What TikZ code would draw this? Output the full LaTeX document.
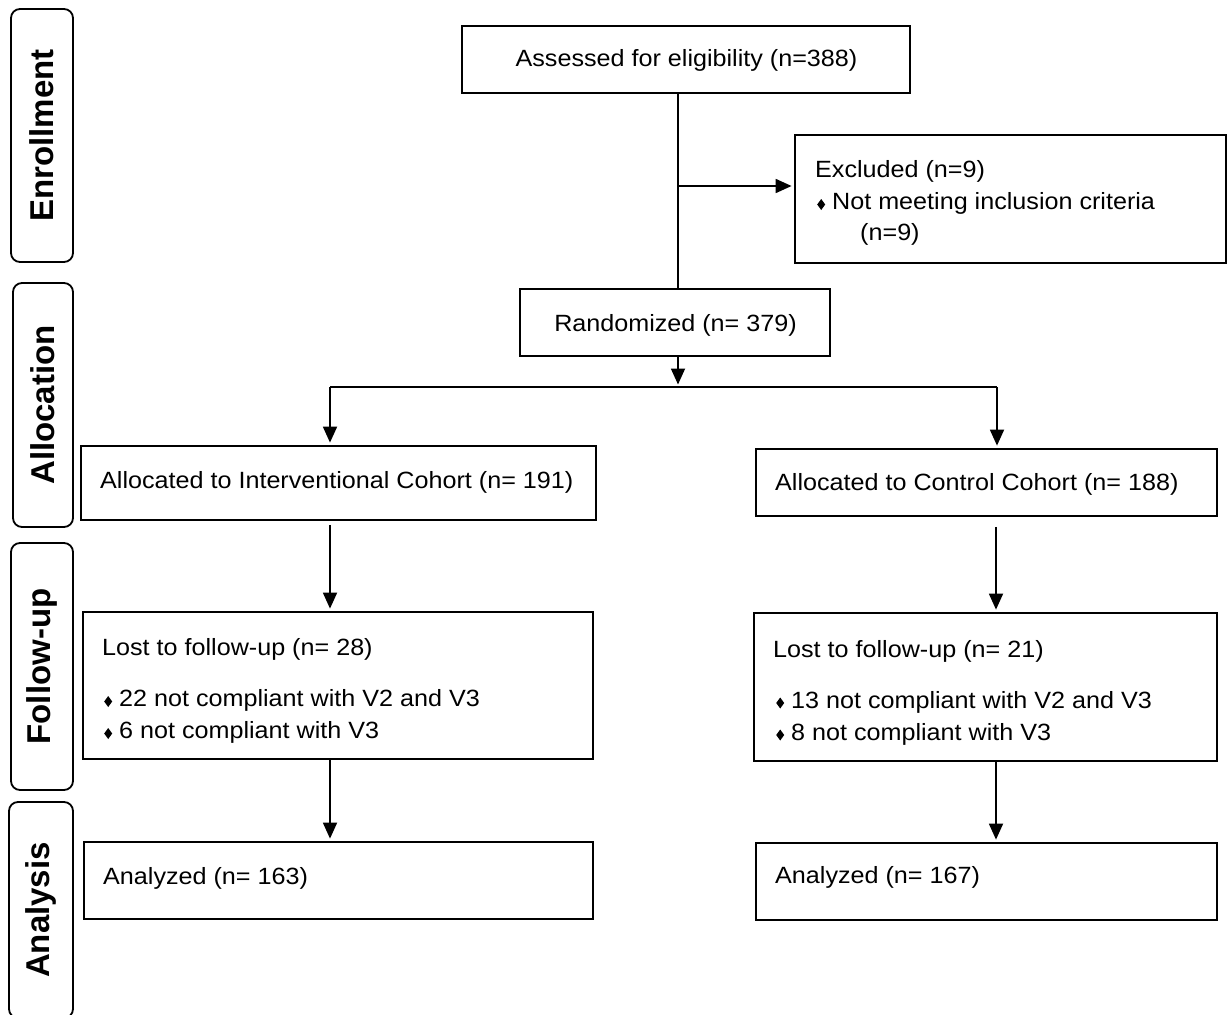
\documentclass[tikz,border=0pt]{standalone}
\usepackage{fontspec}
\setmainfont{Liberation Sans}[FakeStretch=1.07]
\newfontfamily\sidefont{Liberation Sans}
\usetikzlibrary{arrows.meta,calc}
\newcommand{\bul}{\tikz[baseline=0pt]\fill (0pt,5pt)--(4pt,10.5pt)--(8pt,5pt)--(4pt,-0.5pt)--cycle;\hspace{7pt}}
\newcommand{\mainsz}{\fontsize{23.5}{30}\selectfont}
\begin{document}
\begin{tikzpicture}[x=1pt,y=-1pt,
  line/.style={line width=1.8pt},
  arr/.style={line width=1.8pt, -{Triangle[length=16pt,width=14pt]}, shorten >=2.5pt},
  box/.style={draw, line width=1.8pt, inner sep=0pt},
  txt/.style={inner sep=0pt, font=\mainsz},
  side/.style={draw, line width=1.8pt, rounded corners=9pt, rotate=90, inner sep=0pt,
    font=\sidefont\bfseries\fontsize{33}{33}\selectfont}]
\clip (0,0) rectangle (1228,1014);
\fill[white] (0,0) rectangle (1228,1014);
% side labels
\node[side, minimum width=253pt, minimum height=62pt] (s1) at (42,135.5) {Enrollment};
\node[side, minimum width=244pt, minimum height=60pt] (s2) at (43,405) {Allocation};
\node[side, minimum width=247pt, minimum height=62pt] (s3) at (42,666.5) {Follow-up};
\node[side, minimum width=216pt, minimum height=64pt] (s4) at (41,910) {Analysis};
% boxes
\node[box, minimum width=448pt, minimum height=67pt] (A) at (686,59.5) {};
\node[box, minimum width=431pt, minimum height=128pt] (E) at (1010.5,199) {};
\node[box, minimum width=310pt, minimum height=67pt] (R) at (675,322.5) {};
\node[box, minimum width=515pt, minimum height=74pt] (I) at (338.5,483) {};
\node[box, minimum width=461pt, minimum height=67pt] (C) at (986.5,482.5) {};
\node[box, minimum width=510pt, minimum height=147pt] (LL) at (338,685.5) {};
\node[box, minimum width=463pt, minimum height=148pt] (LR) at (985.5,687) {};
\node[box, minimum width=509pt, minimum height=77pt] (AL) at (338.5,880.5) {};
\node[box, minimum width=461pt, minimum height=77pt] (AR) at (986.5,881.5) {};
% texts
\node[txt, anchor=base] (tA) at (686.5,67) {Assessed for eligibility (n=388)};
\node[txt, anchor=base west] (tE1) at (815,177.5) {Excluded (n=9)};
\node[txt, anchor=base west] (tE2) at (817,209.5) {\bul Not meeting inclusion criteria};
\node[txt, anchor=base west] (tE3) at (860,240.5) {(n=9)};
\node[txt, anchor=base] (tR) at (675.5,331) {Randomized (n= 379)};
\node[txt, anchor=base west] (tI) at (100,488) {Allocated to Interventional Cohort (n= 191)};
\node[txt, anchor=base west] (tC) at (775,490) {Allocated to Control Cohort (n= 188)};
\node[txt, anchor=base west] (tL1) at (102,655.5) {Lost to follow-up (n= 28)};
\node[txt, anchor=base west] (tL2) at (104,706.5) {\bul 22 not compliant with V2 and V3};
\node[txt, anchor=base west] (tL3) at (104,738.5) {\bul 6 not compliant with V3};
\node[txt, anchor=base west] (tR1) at (773,657) {Lost to follow-up (n= 21)};
\node[txt, anchor=base west] (tR2) at (776,708) {\bul 13 not compliant with V2 and V3};
\node[txt, anchor=base west] (tR3) at (776,740) {\bul 8 not compliant with V3};
\node[txt, anchor=base west] (tAL) at (103,884) {Analyzed (n= 163)};
\node[txt, anchor=base west] (tAR) at (775,883.5) {Analyzed (n= 167)};
% connectors
\coordinate (j1) at (678,186);
\draw[line] (A.south -| j1) -- (R.north -| j1);
\draw[arr] (j1) -- (E.west |- j1);
\coordinate (j2) at (678,387);
\draw[arr] (R.south -| j2) -- (j2);
\coordinate (jl) at (330,387);
\coordinate (jr) at (997,387);
\draw[line] (jl) -- (jr);
\draw[arr] (jl) -- (I.north -| jl);
\draw[arr] (jr) -- (C.north -| jr);
\coordinate (cl) at (330,0);
\coordinate (cr) at (996,0);
\draw[arr] ($(I.south -| cl)+(0,4)$) -- (LL.north -| cl);
\draw[arr] ($(C.south -| cr)+(0,10)$) -- (LR.north -| cr);
\draw[arr] (LL.south -| cl) -- (AL.north -| cl);
\draw[arr] (LR.south -| cr) -- (AR.north -| cr);
\end{tikzpicture}
\end{document}
